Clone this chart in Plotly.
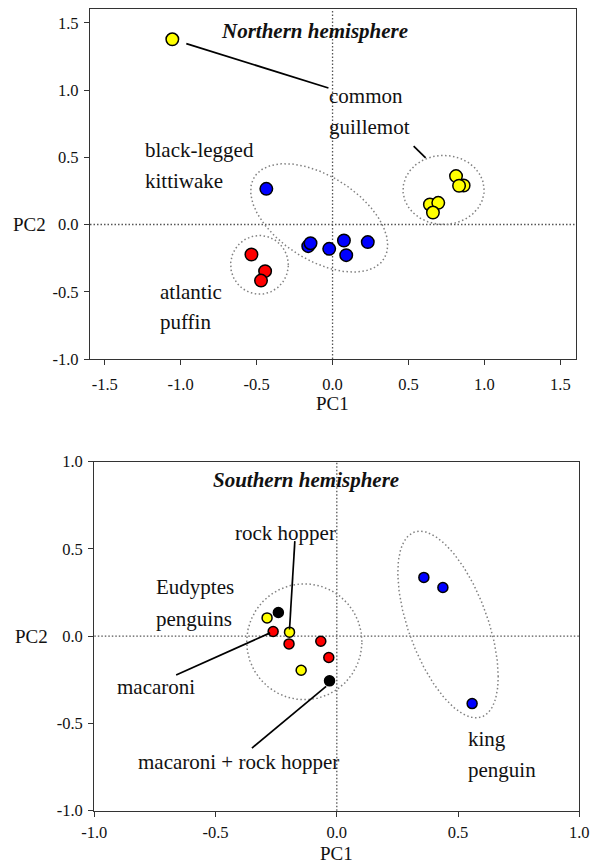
import numpy as np
import plotly.graph_objects as go

# ---------------- data: Northern hemisphere ----------------
n_yellow_pc1 = [-1.055, 0.813, 0.863, 0.833, 0.641, 0.696, 0.661]
n_yellow_pc2 = [1.377, 0.360, 0.290, 0.288, 0.149, 0.161, 0.089]
n_blue_pc1 = [-0.436, -0.160, -0.145, -0.022, 0.075, 0.090, 0.232]
n_blue_pc2 = [0.265, -0.161, -0.139, -0.181, -0.119, -0.228, -0.131]
n_red_pc1 = [-0.534, -0.444, -0.471]
n_red_pc2 = [-0.223, -0.347, -0.417]

# ---------------- data: Southern hemisphere ----------------
s_yellow_pc1 = [-0.2875, -0.195, -0.147]
s_yellow_pc2 = [0.105, 0.023, -0.195]
s_black_pc1 = [-0.241, -0.030]
s_black_pc2 = [0.136, -0.256]
s_red_pc1 = [-0.2625, -0.197, -0.066, -0.033]
s_red_pc2 = [0.027, -0.044, -0.029, -0.122]
s_blue_pc1 = [0.359, 0.4375, 0.558]
s_blue_pc2 = [0.337, 0.279, -0.386]

# ellipses: centre x, centre y, half-extent x, half-extent y, phase (deg)
n_ellipses = [
    (-0.088, 0.049, 0.451, 0.403, 120),
    (-0.481, -0.300, 0.190, 0.218, 90),
    (0.731, 0.257, 0.267, 0.257, 90),
]
s_ellipses = [
    (-0.134, -0.032, 0.2375, 0.332, 90),
    (0.4586, 0.067, 0.207, 0.535, 124),
]

# labels: text, x (left), y (middle)
n_labels = [
    ("common", -0.035, 0.953),
    ("guillemot", -0.035, 0.725),
    ("black-legged", -1.247, 0.551),
    ("kittiwake", -1.247, 0.320),
    ("atlantic", -1.152, -0.499),
    ("puffin", -1.152, -0.727),
]
s_labels = [
    ("rock hopper", -0.427, 0.593),
    ("Eudyptes", -0.753, 0.281),
    ("penguins", -0.753, 0.101),
    ("macaroni", -0.916, -0.291),
    ("macaroni + rock hopper", -0.827, -0.723),
    ("king", 0.534, -0.589),
    ("penguin", 0.534, -0.765),
]
# leader lines
n_leaders = [((-0.963, 1.345), (-0.027, 1.015)), ((0.534, 0.583), (0.613, 0.496))]
s_leaders = [((-0.173, 0.545), (-0.195, 0.038)),
             ((-0.6625, -0.222), (-0.275, 0.019)),
             ((-0.35, -0.641), (-0.044, -0.287))]

n_title = ("Northern hemisphere", -0.12, 1.437)
s_title = ("Southern hemisphere", -0.127, 0.893)

n_xticks = [-1.5, -1.0, -0.5, 0.0, 0.5, 1.0, 1.5]
n_yticks = [-1.0, -0.5, 0.0, 0.5, 1.0, 1.5]
s_xticks = [-1.0, -0.5, 0.0, 0.5, 1.0]
s_yticks = [-1.0, -0.5, 0.0, 0.5, 1.0]

FONT = "Liberation Serif, Times New Roman, serif"
YELLOW = "#FFFF00"
BLUE = "#0000FF"
RED = "#FF0000"
BLACK = "#000000"
LABEL_SIZE = 21

fig = go.Figure()


def ellipse_pts(cx, cy, X, Y, phi):
    t = np.linspace(0, 2 * np.pi, 240)
    return cx + X * np.cos(t), cy + Y * np.cos(t - np.radians(phi))


for (cx, cy, X, Y, phi) in n_ellipses:
    ex, ey = ellipse_pts(cx, cy, X, Y, phi)
    fig.add_trace(go.Scatter(x=ex, y=ey, mode="lines", xaxis="x", yaxis="y",
                             line=dict(color="#808080", width=1.5, dash="1.5px,2.5px"),
                             hoverinfo="skip", showlegend=False))
for (cx, cy, X, Y, phi) in s_ellipses:
    ex, ey = ellipse_pts(cx, cy, X, Y, phi)
    fig.add_trace(go.Scatter(x=ex, y=ey, mode="lines", xaxis="x2", yaxis="y2",
                             line=dict(color="#808080", width=1.5, dash="1.5px,2.5px"),
                             hoverinfo="skip", showlegend=False))


def pts(x, y, color, xa, ya, size):
    fig.add_trace(go.Scatter(x=x, y=y, mode="markers", xaxis=xa, yaxis=ya,
                             marker=dict(color=color, size=size,
                                         line=dict(color="black", width=1.5)),
                             showlegend=False))


pts(n_red_pc1, n_red_pc2, RED, "x", "y", 12.5)
pts(n_blue_pc1, n_blue_pc2, BLUE, "x", "y", 12.5)
pts(n_yellow_pc1, n_yellow_pc2, YELLOW, "x", "y", 12.5)
pts(s_red_pc1, s_red_pc2, RED, "x2", "y2", 10)
pts(s_yellow_pc1, s_yellow_pc2, YELLOW, "x2", "y2", 10)
pts(s_black_pc1, s_black_pc2, BLACK, "x2", "y2", 10)
pts(s_blue_pc1, s_blue_pc2, BLUE, "x2", "y2", 10)

shapes = []
# dotted zero lines
for xr, yr in (("x", "y"), ("x2", "y2")):
    shapes.append(dict(type="line", xref=xr, yref=yr + " domain", x0=0, x1=0, y0=0, y1=1,
                       line=dict(color="#555555", width=1.3, dash="1.5px,2px"), layer="below"))
    shapes.append(dict(type="line", xref=xr + " domain", yref=yr, x0=0, x1=1, y0=0, y1=0,
                       line=dict(color="#555555", width=1.3, dash="1.5px,2px"), layer="below"))
for (p0, p1) in n_leaders:
    shapes.append(dict(type="line", xref="x", yref="y", x0=p0[0], y0=p0[1], x1=p1[0], y1=p1[1],
                       line=dict(color="black", width=1.7)))
for (p0, p1) in s_leaders:
    shapes.append(dict(type="line", xref="x2", yref="y2", x0=p0[0], y0=p0[1], x1=p1[0], y1=p1[1],
                       line=dict(color="black", width=1.7)))

annotations = []
for (t, x, y) in n_labels:
    annotations.append(dict(text=t, x=x, y=y, xref="x", yref="y", xanchor="left",
                            yanchor="middle", showarrow=False,
                            font=dict(family=FONT, size=LABEL_SIZE, color="#111")))
for (t, x, y) in s_labels:
    annotations.append(dict(text=t, x=x, y=y, xref="x2", yref="y2", xanchor="left",
                            yanchor="middle", showarrow=False,
                            font=dict(family=FONT, size=LABEL_SIZE, color="#111")))
annotations.append(dict(text="<b><i>%s</i></b>" % n_title[0], x=n_title[1], y=n_title[2],
                        xref="x", yref="y", xanchor="center", yanchor="middle",
                        showarrow=False, font=dict(family=FONT, size=21, color="#111")))
annotations.append(dict(text="<b><i>%s</i></b>" % s_title[0], x=s_title[1], y=s_title[2],
                        xref="x2", yref="y2", xanchor="center", yanchor="middle",
                        showarrow=False, font=dict(family=FONT, size=21, color="#111")))
# axis titles
title_font = dict(family=FONT, size=19, color="#111")
annotations += [
    dict(text="PC1", x=0.5, y=0, xref="x domain", yref="y domain", yshift=-44,
         xanchor="center", yanchor="middle", showarrow=False, font=title_font),
    dict(text="PC2", x=0, y=0.3846, xref="x domain", yref="y domain", xshift=-61,
         xanchor="center", yanchor="middle", showarrow=False, font=title_font),
    dict(text="PC1", x=0.5, y=0, xref="x2 domain", yref="y2 domain", yshift=-43,
         xanchor="center", yanchor="middle", showarrow=False, font=title_font),
    dict(text="PC2", x=0, y=0.5, xref="x2 domain", yref="y2 domain", xshift=-63,
         xanchor="center", yanchor="middle", showarrow=False, font=title_font),
]


def ticktexts(vals):
    return ["%.1f" % v for v in vals]


axis_common = dict(showgrid=False, zeroline=False, showline=True, linecolor="#333333",
                   linewidth=1.3, mirror=True, ticks="outside", ticklen=5, tickwidth=1.3,
                   tickcolor="#333333", automargin=False,
                   tickfont=dict(family=FONT, size=16.5, color="#111"))

fig.update_layout(
    width=595, height=867, margin=dict(l=0, r=0, t=0, b=0, pad=0, autoexpand=False),
    paper_bgcolor="white", plot_bgcolor="white", showlegend=False,
    xaxis=dict(domain=[90 / 595, 575.7 / 595], range=[-1.597, 1.601], anchor="y",
               tickvals=n_xticks, ticktext=ticktexts(n_xticks), ticklabelstandoff=5,
               **axis_common),
    yaxis=dict(domain=[1 - 359 / 867, 1 - 9.3 / 867], range=[-1.0, 1.6], anchor="x",
               tickvals=n_yticks, ticktext=ticktexts(n_yticks), ticklabelstandoff=2,
               **axis_common),
    xaxis2=dict(domain=[94.3 / 595, 579.3 / 595], range=[-1.0, 1.0], anchor="y2",
                tickvals=s_xticks, ticktext=ticktexts(s_xticks), ticklabelstandoff=1,
                **axis_common),
    yaxis2=dict(domain=[1 - 810.7 / 867, 1 - 461.7 / 867], range=[-1.0, 1.0], anchor="x2",
                tickvals=s_yticks, ticktext=ticktexts(s_yticks), ticklabelstandoff=2,
                **axis_common),
    shapes=shapes, annotations=annotations,
)

fig.write_html("out.html")
